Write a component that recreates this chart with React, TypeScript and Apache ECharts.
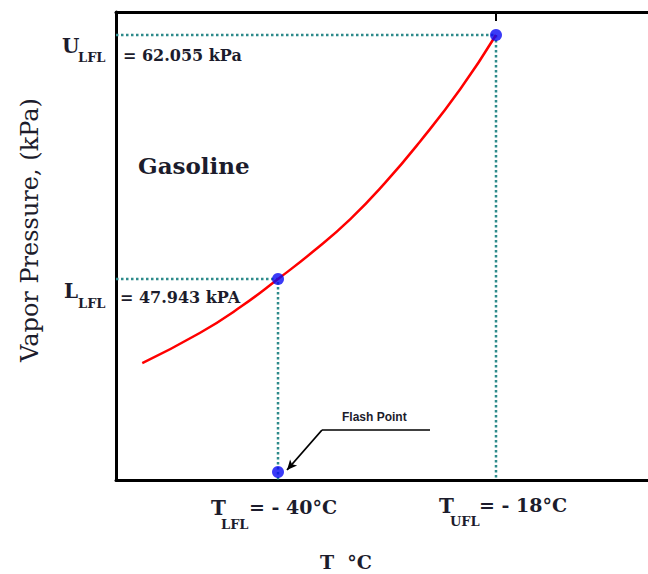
import React, { useEffect, useRef } from "react";
import * as echarts from "echarts";

// Vapor pressure curve of gasoline
const curveT = [-53.7, -47.9, -43.8, -40.0, -36.4, -32.7, -29.2, -25.7, -21.6, -18.0];
const curveP = [43.08, 44.82, 46.32, 47.943, 49.56, 51.41, 53.5, 55.87, 58.93, 62.055];

// Key points: lower (LFL) and upper (UFL) flammability limits
const keyT = [-40, -18];
const keyP = [47.943, 62.055];

// Flash point marker (on the temperature axis)
const flashT = -40;
const flashP = 36.78;

// Axis extents
const xMin = -56.35;
const xMax = -2.66;
const yMin = 36.32;
const yMax = 63.385;

// Flash-point leader line (data coordinates)
const leaderT = [-24.66, -35.56, -39.09];
const leaderP = [39.21, 39.21, 36.9];

const SERIF = "'DejaVu Serif', serif";
const INK = "#1c1c2c";
const TEAL = "#2E8B8B";

export default function App() {
  const ref = useRef<HTMLDivElement>(null);

  useEffect(() => {
    if (!ref.current) return;
    const chart = echarts.init(ref.current, null, { renderer: "svg" });

    const txt = (
      text: string,
      x: number,
      y: number,
      size: number,
      weight: string = "bold",
      align: string = "left",
      family: string = SERIF,
      extra: any = {}
    ) => ({
      type: "text",
      x,
      y,
      silent: true,
      ...extra,
      style: {
        text,
        fontSize: size,
        fontWeight: weight,
        fontFamily: family,
        fill: INK,
        align,
        verticalAlign: "middle",
      },
    });

    const dotted = (data: number[][]) => ({
      type: "line",
      data,
      symbol: "none",
      silent: true,
      z: 1,
      lineStyle: { color: TEAL, width: 2.5, type: [2.5, 2.5] },
    });

    chart.setOption({
      animation: false,
      grid: { left: 116, right: 0, top: 12, bottom: 94 },
      xAxis: [
        {
          type: "value",
          min: xMin,
          max: xMax,
          axisLine: { show: true, lineStyle: { color: "#000", width: 3 } },
          axisTick: { show: false },
          axisLabel: { show: false },
          splitLine: { show: false },
        },
        {
          type: "value",
          position: "top",
          min: xMin,
          max: xMax,
          axisLine: { show: true, lineStyle: { color: "#000", width: 3 } },
          axisTick: {
            show: true,
            inside: true,
            length: 9,
            customValues: [keyT[1]],
            lineStyle: { color: "#000", width: 2 },
          },
          axisLabel: { show: false },
          splitLine: { show: false },
        },
      ],
      yAxis: {
        type: "value",
        min: yMin,
        max: yMax,
        axisLine: { show: true, lineStyle: { color: "#000", width: 3 } },
        axisTick: { show: false },
        axisLabel: { show: false },
        splitLine: { show: false },
      },
      series: [
        dotted([
          [xMin, keyP[0]],
          [keyT[0], keyP[0]],
          [keyT[0], yMin],
        ]),
        dotted([
          [xMin, keyP[1]],
          [keyT[1], keyP[1]],
          [keyT[1], yMin],
        ]),
        {
          type: "line",
          data: curveT.map((t, i) => [t, curveP[i]]),
          smooth: true,
          symbol: "none",
          silent: true,
          z: 2,
          lineStyle: { color: "#ff0000", width: 2.5 },
        },
        {
          type: "line",
          data: leaderT.slice(0, 2).map((t, i) => [t, leaderP[i]]),
          symbol: "none",
          silent: true,
          z: 2,
          lineStyle: { color: "#000", width: 1.5 },
          markLine: {
            silent: true,
            symbol: ["none", "arrow"],
            symbolSize: [7, 10],
            label: { show: false },
            lineStyle: { color: "#000", width: 1.8, type: "solid" },
            data: [
              [
                { coord: [leaderT[1], leaderP[1]] },
                { coord: [leaderT[2], leaderP[2]] },
              ],
            ],
          },
        },
        {
          type: "scatter",
          data: [
            [keyT[0], keyP[0]],
            [keyT[1], keyP[1]],
            [flashT, flashP],
          ],
          symbolSize: 12,
          silent: true,
          z: 5,
          itemStyle: { color: "#0a0af5" },
        },
      ],
      graphic: [
        txt("U", 62, 46, 20),
        txt("LFL", 78, 57, 13),
        txt("= 62.055 kPa", 123, 55, 16),
        txt("L", 64, 291, 20),
        txt("LFL", 78, 303, 13),
        txt("= 47.943 kPA", 120, 297, 16),
        txt("Gasoline", 138, 165, 23),
        txt("Vapor Pressure, (kPa)", 30, 230, 24, "normal", "center", SERIF, {
          rotation: Math.PI / 2,
        }),
        txt("T", 211, 508, 20),
        txt("LFL", 221, 524, 13),
        txt("= - 40°C", 249, 507, 19),
        txt("T", 439, 506, 20),
        txt("UFL", 450, 521, 13),
        txt("= - 18°C", 479, 505, 19),
        txt("T  °C", 346, 562, 19, "bold", "center"),
        txt("Flash Point", 342, 417, 12, "bold", "left", "'Liberation Sans', Arial, sans-serif"),
      ],
    });

    return () => chart.dispose();
  }, []);

  return (
    <div
      ref={ref}
      style={{ position: "fixed", left: 0, top: 0, width: 648, height: 574, background: "#fff" }}
    />
  );
}
